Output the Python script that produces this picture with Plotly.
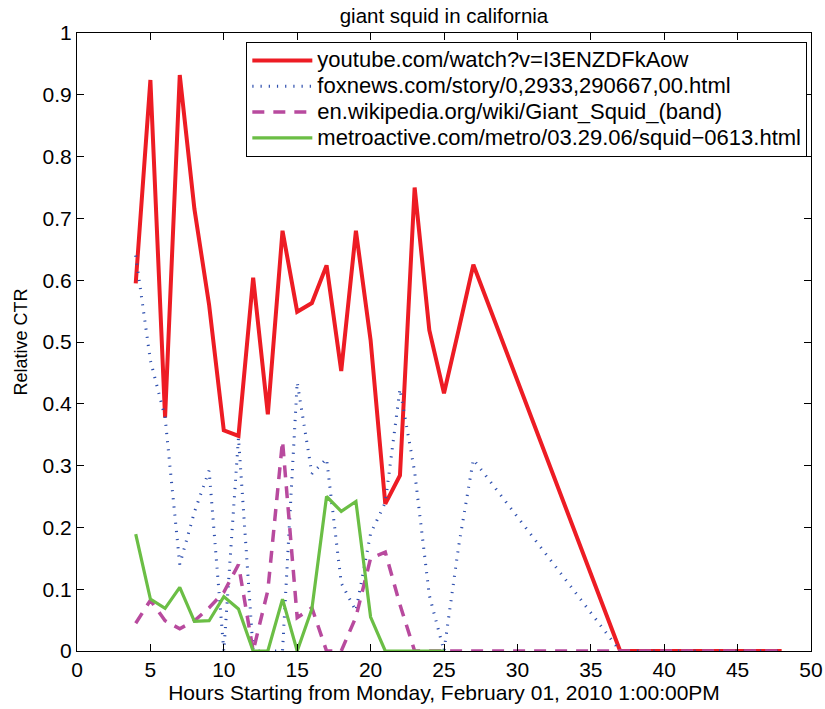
import plotly.graph_objects as go

# hours (hour 28-36 missing in the data; lines connect across the gap)
hours = [4, 5, 6, 7, 8, 9, 10, 11, 12, 13, 14, 15, 16, 17, 18, 19, 20, 21, 22, 23, 24, 25, 26, 27,
         37, 38, 39, 40, 41, 42, 43, 44, 45, 46, 47, 48]

youtube = [0.595, 0.924, 0.378, 0.932, 0.715, 0.56, 0.357, 0.348, 0.604, 0.383, 0.68, 0.549,
           0.563, 0.624, 0.453, 0.68, 0.503, 0.238, 0.284, 0.75, 0.519, 0.417, 0.52, 0.625,
           0, 0, 0, 0, 0, 0, 0, 0, 0, 0, 0, 0]

foxnews = [0.64, 0.47, 0.378, 0.14, 0.225, 0.292, 0.0, 0.345, 0, 0, 0, 0.435,
           0.287, 0.311, 0.11, 0.065, 0.19, 0.24, 0.424, 0.29, 0.09, 0, 0.17, 0.31,
           0, 0, 0, 0, 0, 0, 0, 0, 0, 0, 0, 0]

wikipedia = [0.045, 0.082, 0.049, 0.036, 0.049, 0.07, 0.095, 0.14, 0, 0.098, 0.34, 0.054,
             0.07, 0, 0, 0.055, 0.15, 0.16, 0.075, 0, 0, 0, 0, 0,
             0, 0, 0, 0, 0, 0, 0, 0, 0, 0, 0, 0]

metro_hours = [4, 5, 6, 7, 8, 9, 10, 11, 12, 13, 14, 15, 16, 17, 18, 19, 20, 21, 22, 23, 24, 25]
metroactive = [0.189, 0.084, 0.069, 0.103, 0.048, 0.049, 0.088, 0.068, 0, 0, 0.084, 0,
               0.068, 0.25, 0.226, 0.242, 0.055, 0, 0, 0, 0, 0]

names = ["youtube.com/watch?v=I3ENZDFkAow",
         "foxnews.com/story/0,2933,290667,00.html",
         "en.wikipedia.org/wiki/Giant_Squid_(band)",
         "metroactive.com/metro/03.29.06/squid\u22120613.html"]

xticks = [0, 5, 10, 15, 20, 25, 30, 35, 40, 45, 50]
yticks = [0, 0.1, 0.2, 0.3, 0.4, 0.5, 0.6, 0.7, 0.8, 0.9, 1]
yticklabels = ["0", "0.1", "0.2", "0.3", "0.4", "0.5", "0.6", "0.7", "0.8", "0.9", "1"]

FONT = "Liberation Sans, Arial, sans-serif"


def legend_label(s):
    return "<span style='font-size:22px'>" + s + "</span>"


fig = go.Figure()
fig.add_trace(go.Scatter(x=hours, y=youtube, mode="lines", name=legend_label(names[0]),
                         line=dict(color="#ED1C24", width=4)))
fig.add_trace(go.Scatter(x=hours, y=foxnews, mode="lines", name=legend_label(names[1]),
                         line=dict(color="#2E4FAE", width=3, dash="1.2px,7px")))
fig.add_trace(go.Scatter(x=hours, y=wikipedia, mode="lines", name=legend_label(names[2]),
                         line=dict(color="#B84A9E", width=3.5, dash="12px,9px")))
fig.add_trace(go.Scatter(x=metro_hours, y=metroactive, mode="lines", name=legend_label(names[3]),
                         line=dict(color="#6BBE45", width=3.2)))

axis_common = dict(showline=True, linecolor="black", linewidth=1, mirror="ticks",
                   ticks="inside", ticklen=7, tickcolor="black", showgrid=False,
                   zeroline=False, automargin=False,
                   tickfont=dict(size=21, color="black", family=FONT))

fig.update_layout(
    width=825, height=709,
    paper_bgcolor="white", plot_bgcolor="white",
    margin=dict(l=77, r=14, t=33, b=58, autoexpand=False),
    font=dict(family=FONT, color="black", size=20),
    title=dict(text="giant squid in california", x=0.5, xanchor="center",
               xref="paper", y=1 - 16 / 709, yanchor="middle", automargin=False,
               font=dict(size=20.5, family=FONT, color="black")),
    xaxis=dict(range=[0, 50], tickvals=xticks,
               title=dict(text="Hours Starting from Monday, February 01, 2010 1:00:00PM",
                          font=dict(size=21), standoff=4), **axis_common),
    yaxis=dict(range=[0, 1], tickvals=yticks, ticktext=yticklabels,
               title=dict(text="Relative CTR", font=dict(size=18), standoff=10), **axis_common),
    legend=dict(x=0.995, y=0.986, xanchor="right", yanchor="top",
                bgcolor="white", bordercolor="black", borderwidth=1,
                font=dict(size=17.5, family=FONT, color="black"),
                itemwidth=60, tracegroupgap=0),
    showlegend=True,
)

fig.write_html("out.html",
               config={"displayModeBar": False},
               post_script="document.body.style.margin='0';document.body.style.padding='0';"
                           "document.documentElement.style.overflow='hidden';")
